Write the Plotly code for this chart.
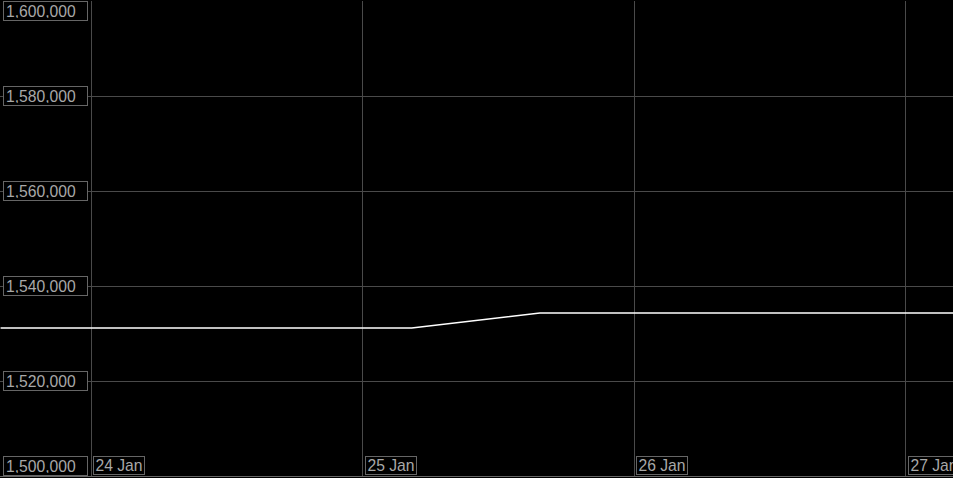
import plotly.graph_objects as go

# Data
times = ["2024-01-23 16:00", "2024-01-25 04:20", "2024-01-25 15:40", "2024-01-27 04:10"]
values = [1531160, 1531160, 1534320, 1534320]

y_ticks = [1500000, 1520000, 1540000, 1560000, 1580000, 1600000]
y_tick_labels = ["1,500,000", "1,520,000", "1,540,000", "1,560,000", "1,580,000", "1,600,000"]
x_ticks = ["2024-01-24", "2024-01-25", "2024-01-26", "2024-01-27"]
x_tick_labels = ["24 Jan", "25 Jan", "26 Jan", "27 Jan"]

x_range = ["2024-01-23 15:57", "2024-01-27 04:10"]
y_range = [1500000, 1600000]

grid = "#4a4a4a"
label_col = "#a8a8a8"
font = dict(family="Liberation Sans, Arial, sans-serif", size=15.7, color=label_col)

fig = go.Figure()
fig.add_trace(go.Scatter(x=times, y=values, mode="lines",
                         line=dict(color="#ffffff", width=1.3), hoverinfo="skip"))

annotations = []
for v, t in zip(y_ticks, y_tick_labels):
    if v == y_range[1]:
        anchor = "top"
    elif v == y_range[0]:
        anchor = "bottom"
    else:
        anchor = "middle"
    annotations.append(dict(x=0, xref="paper", y=v, yref="y", text=t, showarrow=False,
                            xanchor="left", yanchor=anchor, xshift=3, align="left",
                            width=79, height=14, bordercolor="#666666", borderwidth=1,
                            borderpad=2, font=font, bgcolor="#000000"))
for v, t in zip(x_ticks, x_tick_labels):
    annotations.append(dict(x=v, xref="x", y=0, yref="paper", text=t, showarrow=False,
                            xanchor="left", yanchor="bottom", xshift=2, yshift=1,
                            width=48, height=15, bordercolor="#666666", borderwidth=1,
                            borderpad=1, align="center", font=font, bgcolor="#000000"))

fig.update_layout(
    width=953, height=478,
    paper_bgcolor="#000000", plot_bgcolor="#000000",
    margin=dict(l=0, r=0, t=1, b=2),
    showlegend=False,
    annotations=annotations,
    xaxis=dict(range=x_range, tickvals=x_ticks, showticklabels=False, showgrid=True,
               gridcolor=grid, gridwidth=1, zeroline=False, showline=True,
               linecolor="#666666", linewidth=1, ticks=""),
    yaxis=dict(range=y_range, tickvals=y_ticks, showticklabels=False, showgrid=True,
               gridcolor=grid, gridwidth=1, zeroline=False, showline=False, ticks=""),
)

fig.write_html("out.html", config={"displayModeBar": False},
               post_script="document.body.style.margin='0';document.body.style.overflow='hidden';document.body.style.background='#000';")
